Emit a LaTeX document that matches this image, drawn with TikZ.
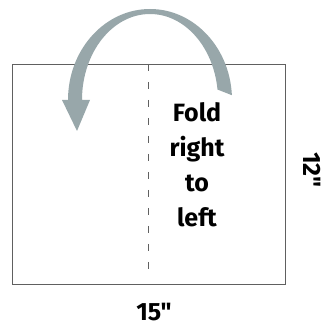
\documentclass[tikz,border=0pt]{standalone}
\usepackage{fontspec}
\setmainfont{Fira Sans}[Ligatures=TeXOff]
\definecolor{freccia}{HTML}{98A7AA}
\definecolor{bordo}{HTML}{606060}
\tikzset{
    misura/.style={font=\fontsize{25}{25}\selectfont\bfseries},
    piega/.style={bordo, dash pattern=on 7pt off 11pt},
}
\begin{document}
\begin{tikzpicture}[x=1pt,y=1pt]
    \useasboundingbox (0,0) rectangle (327,327);

    % Foglio
    \draw[bordo, line width=0.9pt] (12,43) rectangle (285,263);

    % Linea di piegatura
    \draw[piega, line width=0.9pt] (148.5,263) -- (148.5,50);

    % Freccia curva
    \fill[freccia] (150,227) ++(3:82 and 91)
        arc[start angle=3, end angle=180, x radius=82, y radius=91]
        -- (62,227) -- (77,196) -- (90,227) -- (82,227)
        arc[start angle=180, end angle=7, x radius=68, y radius=86] -- cycle;

    % Testo e misure
    \node[misura, align=center, font=\fontsize{25}{35}\selectfont\bfseries] (istruzione) at (197,162) {Fold\\right\\to\\left};
    \node[misura, rotate=-90] (altezza) at (312,157) {12"};
    \node[misura] (larghezza) at (154,15) {15"};
\end{tikzpicture}
\end{document}
